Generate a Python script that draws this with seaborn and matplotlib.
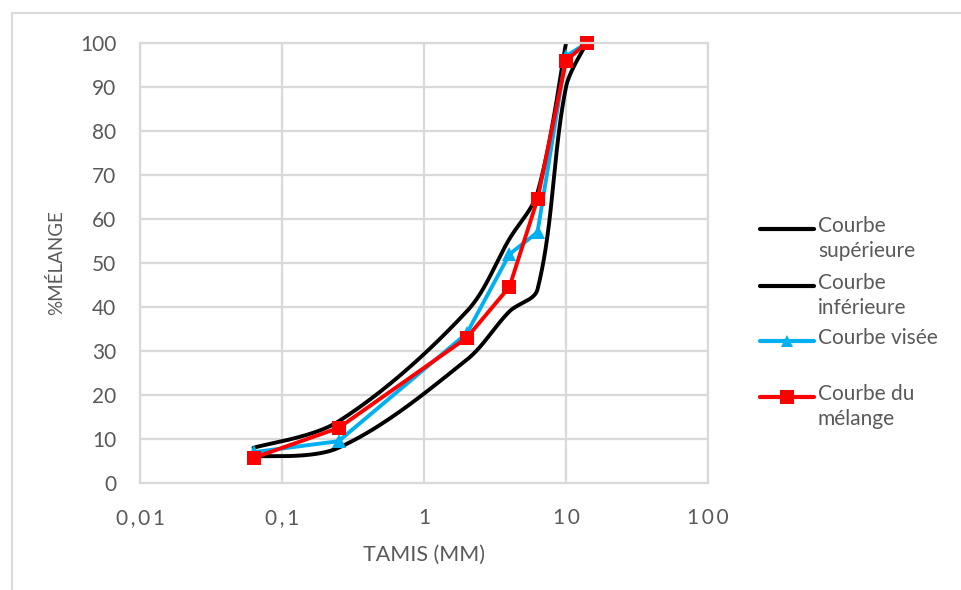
import numpy as np
import pandas as pd
import matplotlib
matplotlib.use("Agg")
import matplotlib.pyplot as plt
import seaborn as sns
from matplotlib.lines import Line2D
from matplotlib.patches import Rectangle

# ---------------- data ----------------
sup_x = [0.063, 0.25, 2, 4, 6.3, 10]
sup_y = [8, 14, 39, 55.5, 66, 100]

inf_x = [0.063, 0.25, 2, 4, 6.3, 10, 14]
inf_y = [6.0, 8, 28, 39, 44, 90, 100]

vis_x = [0.063, 0.25, 2, 4, 6.3, 10, 14]
vis_y = [7, 9.5, 34, 52, 57, 97, 100]

mel_x = [0.063, 0.25, 2, 4, 6.3, 10, 14]
mel_y = [5.7, 12.5, 33, 44.6, 64.5, 96, 100]

x_ticks = [0.01, 0.1, 1, 10, 100]
x_tick_labels = ["0,01", "0,1", "1", "10", "100"]
y_ticks = list(range(0, 101, 10))

legend_labels = ["Courbe\nsupérieure", "Courbe\ninférieure", "Courbe visée", "Courbe du\nmélange"]

# screen scale of the plot area (px per decade, px per y unit) used for smoothing
PX_DEC = 142.0
PX_Y = 4.4


def smooth_curve(xs, ys, n=40):
    """Excel-like smoothed line: Bezier segments with length-weighted tangents."""
    lx = np.log10(np.asarray(xs, float))
    yy = np.asarray(ys, float)
    P = np.column_stack([lx * PX_DEC, yy * PX_Y])
    m = len(P)
    t = np.linspace(0, 1, n)
    out = []
    d = lambda a, b: float(np.hypot(*(a - b)))
    for i in range(m - 1):
        p1, p2 = P[i], P[i + 1]
        d12 = d(p1, p2)
        if i > 0:
            p0 = P[i - 1]
            d01 = d(p0, p1)
            c1 = p1 + (p2 - p0) * d12 / (d01 + d12) / 3.0
        else:
            c1 = p1 + (p2 - p1) / 6.0
        if i + 2 < m:
            p3 = P[i + 2]
            d23 = d(p2, p3)
            c2 = p2 - (p3 - p1) * d12 / (d12 + d23) / 3.0
        else:
            c2 = p2 - (p2 - p1) / 6.0
        seg = ((1 - t) ** 3)[:, None] * p1 + (3 * (1 - t) ** 2 * t)[:, None] * c1 \
            + (3 * (1 - t) * t ** 2)[:, None] * c2 + (t ** 3)[:, None] * p2
        if i > 0:
            seg = seg[1:]
        out.append(seg)
    out = np.vstack(out)
    return pd.DataFrame({"x": 10 ** (out[:, 0] / PX_DEC), "y": out[:, 1] / PX_Y})


sns.set_theme(style="white")
plt.rcParams["font.family"] = ["Lato", "DejaVu Sans"]

W, H = 962, 590
fig = plt.figure(figsize=(W / 100, H / 100), dpi=100)
ax = fig.add_axes([140 / W, 1 - 483 / H, (708 - 140) / W, (483 - 43) / H])

grid_c = "#d9d9d9"
text_c = "#595959"

ax.set_xscale("log")
ax.set_xlim(0.01, 100)
ax.set_ylim(0, 100)

ax.set_axisbelow(True)
ax.grid(True, which="major", color=grid_c, linewidth=1.6)
ax.minorticks_off()
for s in ax.spines.values():
    s.set_color(grid_c)
    s.set_linewidth(1.6)

lw = 2.8
df_sup = smooth_curve(sup_x, sup_y)
df_inf = smooth_curve(inf_x, inf_y)
sns.lineplot(data=df_sup, x="x", y="y", sort=False, estimator=None, color="black",
             linewidth=lw, ax=ax)
sns.lineplot(data=df_inf, x="x", y="y", sort=False, estimator=None, color="black",
             linewidth=lw, ax=ax)
sns.lineplot(x=vis_x, y=vis_y, sort=False, estimator=None, color="#00b0f0",
             linewidth=lw, marker="^", markersize=10, markeredgewidth=0, ax=ax)
sns.lineplot(x=mel_x, y=mel_y, sort=False, estimator=None, color="#ff0000",
             linewidth=lw, marker="s", markersize=10.5, markeredgewidth=0, ax=ax,
             clip_on=False)

sp = "\u2009"
ax.set_xticks(x_ticks)
ax.set_xticklabels([sp.join(list(s)) for s in x_tick_labels])
ax.set_yticks(y_ticks)
ax.tick_params(axis="x", length=0, pad=18, labelsize=15, labelcolor=text_c)
ax.tick_params(axis="y", length=0, pad=17, labelsize=15, labelcolor=text_c)

ax.set_xlabel("TAMIS (MM)", fontsize=15.5, color=text_c, labelpad=12)
ax.set_ylabel("%MÉLANGE", fontsize=13.5, color=text_c, labelpad=11)

# chart-area border (left and top edges visible)
fig.add_artist(Rectangle((12 / W, -0.05), 1.2, (1 - 13 / H) + 0.05,
                         transform=fig.transFigure, fill=False,
                         edgecolor=grid_c, linewidth=1.5))

# legend (handles aligned with first text line, like Excel)
leg_y = [229, 286, 341, 397]
leg_styles = [
    dict(color="black", marker=None),
    dict(color="black", marker=None),
    dict(color="#00b0f0", marker="^", markersize=9),
    dict(color="#ff0000", marker="s", markersize=9.5),
]
for yy, lab, st in zip(leg_y, legend_labels, leg_styles):
    yf = 1 - yy / H
    fig.add_artist(Line2D([760 / W, 814 / W], [yf, yf], transform=fig.transFigure,
                          linewidth=3, color=st["color"]))
    if st["marker"]:
        fig.add_artist(Line2D([787 / W], [yf], transform=fig.transFigure,
                              linestyle="none", marker=st["marker"],
                              markersize=st["markersize"], markeredgewidth=0,
                              color=st["color"]))
    fig.text(818 / W, 1 - (yy - 13) / H, lab, fontsize=15, color=text_c, va="top",
             ha="left", linespacing=1.3, transform=fig.transFigure)

fig.savefig("out.png", dpi=100)
